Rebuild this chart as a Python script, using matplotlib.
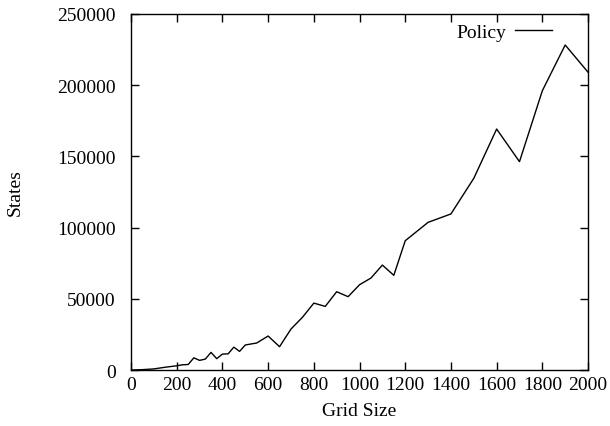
import numpy as np
import matplotlib
matplotlib.use("Agg")
import matplotlib.pyplot as plt

# grid size vs number of states
grid_size = [0, 50, 100, 150, 200, 225, 250, 275, 300, 325, 350, 375, 400, 425,
             450, 475, 500, 550, 600, 650, 700, 750, 800, 850, 900, 950, 1000,
             1050, 1100, 1150, 1200, 1300, 1400, 1500, 1600, 1700, 1800, 1900, 2000]
states = [0, 300, 800, 2000, 3000, 3700, 3900, 8600, 6800, 7700, 12400, 8000, 11200, 11400,
          16100, 13100, 17600, 19000, 23900, 16400, 28800, 37000, 47000, 44700, 55000, 51500, 59900,
          64600, 73700, 66500, 90800, 103700, 109600, 134600, 169200, 146300, 196100, 228200, 209100]

plt.rcParams['font.family'] = ['Liberation Serif', 'DejaVu Serif']
plt.rcParams['font.size'] = 14

fig = plt.figure(figsize=(6.1, 4.27), dpi=100)
ax = fig.add_axes([0.2148, 0.131, 0.7492, 0.834])

ax.plot(grid_size, states, color='black', linewidth=1.0, label='Policy')

ax.set_xlim(0, 2000)
ax.set_ylim(0, 250000)
ax.set_xticks(np.arange(0, 2001, 200))
ax.set_yticks(np.arange(0, 250001, 50000))
ax.tick_params(direction='in', length=6, width=1, top=True, right=True, labelsize=14)
ax.tick_params(axis='y', pad=11)
ax.tick_params(axis='x', pad=4)
for s in ax.spines.values():
    s.set_linewidth(1.0)

ax.set_xlabel('Grid Size', fontsize=14, labelpad=7)
fig.text(0.025, 0.55, 'States', rotation=90, ha='center', va='center', fontsize=14)

ax.legend(loc='upper right', frameon=False, markerfirst=False, handlelength=1.9,
          handletextpad=0.45, fontsize=14, borderaxespad=0.1, bbox_to_anchor=(0.943, 1.0))

fig.savefig('out.png', dpi=100)
